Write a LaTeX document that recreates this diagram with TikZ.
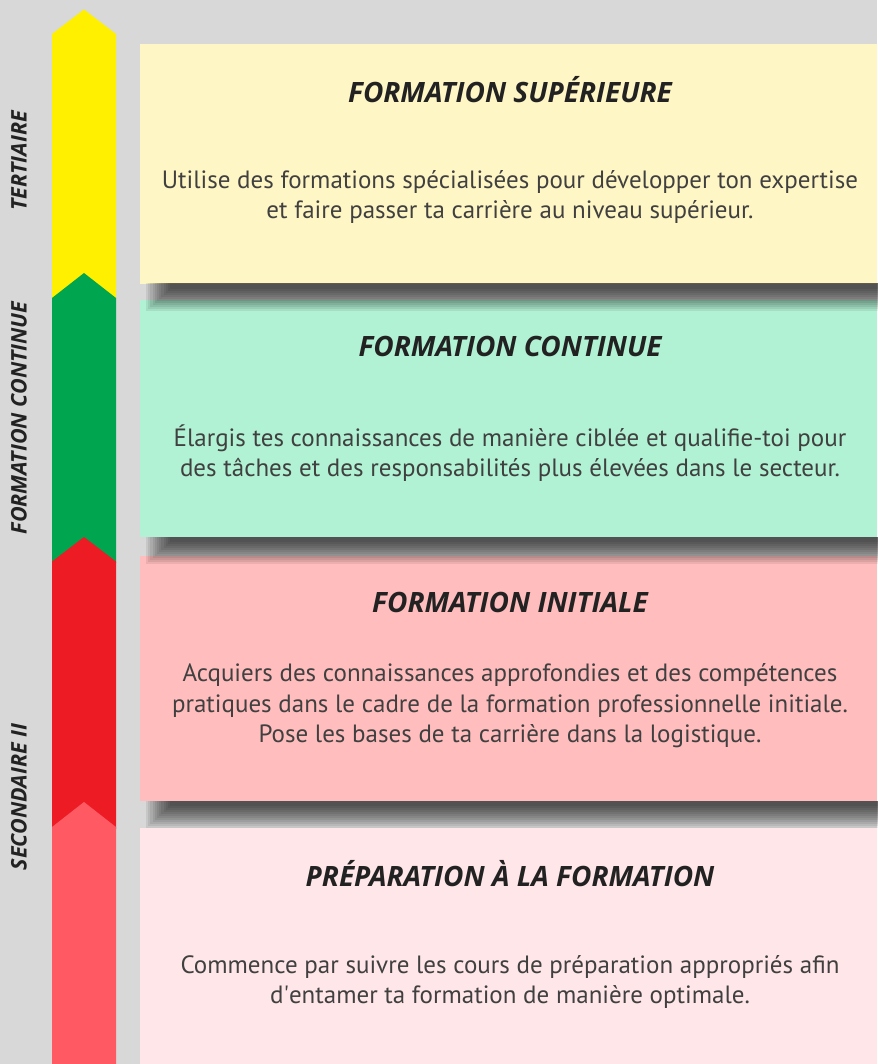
\documentclass[tikz,border=0pt]{standalone}
\usepackage{fontspec}
\setmainfont{PT Sans}
\newfontfamily\headfont{Open Sans}
\definecolor{bg}{HTML}{D8D8D8}
\definecolor{cyel}{HTML}{FFF000}
\definecolor{cgrn}{HTML}{00A54F}
\definecolor{cred}{HTML}{ED1C24}
\definecolor{csal}{HTML}{FF5A64}
\definecolor{byel}{HTML}{FFF6C5}
\definecolor{bgrn}{HTML}{B2F2D4}
\definecolor{bred}{HTML}{FFBDBD}
\definecolor{bsal}{HTML}{FFE6E8}
\definecolor{txt}{HTML}{404040}
\definecolor{ttl}{HTML}{222222}
\tikzset{
  ttlstyle/.style={font=\headfont\fontsize{28}{32}\selectfont\bfseries\itshape, text=ttl, inner sep=0pt},
  bodystyle/.style={font=\fontsize{25}{30.5}\selectfont, text=txt, align=center, inner sep=0pt},
  sidestyle/.style={font=\headfont\fontsize{21.5}{24}\selectfont\bfseries\itshape, text=ttl, rotate=90, inner sep=0pt},
  boxstyle/.style={inner sep=0pt, outer sep=0pt, draw=none}
}
\newcommand{\myshadow}[1]{%
  \begin{scope}
    \clip (140,#1) rectangle (900,#1+40);
    \foreach \k in {0,...,11}{
      \fill[black, opacity=0.075] (146+2.2*\k,#1-20) rectangle (900,#1+27-2*\k);
    }
  \end{scope}}
\begin{document}
\begin{tikzpicture}[x=1pt,y=-1pt]
\fill[bg] (0,0) rectangle (877,1064);
\useasboundingbox (0,0) rectangle (877,1064);
% chevrons
\fill[cyel] (52,34) -- (84,9.5) -- (116,34) -- (116,300) -- (52,300) -- cycle;
\fill[cgrn] (52,298) -- (84,273) -- (116,298) -- (116,563) -- (52,563) -- cycle;
\fill[cred] (52,561.5) -- (84,537) -- (116,561.5) -- (116,829) -- (52,829) -- cycle;
\fill[csal] (52,827) -- (84,802) -- (116,827) -- (116,1064) -- (52,1064) -- cycle;
% boxes
\fill[byel] (139.5,44) rectangle (877,284);
\fill[bgrn] (139.5,300) rectangle (877,537);
\fill[bred] (139.5,556) rectangle (877,801);
\fill[bsal] (139.5,828) rectangle (877,1064);
\node[boxstyle, minimum width=737.5pt, minimum height=240pt] (b1) at (508.25,164) {};
\node[boxstyle, minimum width=737.5pt, minimum height=237pt] (b2) at (508.25,418.5) {};
\node[boxstyle, minimum width=737.5pt, minimum height=245pt] (b3) at (508.25,678.5) {};
\node[boxstyle, minimum width=737.5pt, minimum height=236pt] (b4) at (508.25,946) {};
% shadows
\myshadow{284}
\myshadow{537}
\myshadow{801}
% titles
\node[ttlstyle] (t1) at (510,90) {FORMATION SUPÉRIEURE};
\node[ttlstyle] (t2) at (510,346) {FORMATION CONTINUE};
\node[ttlstyle] (t3) at (510,602) {FORMATION INITIALE};
\node[ttlstyle] (t4) at (510,874) {PRÉPARATION À LA FORMATION};
% bodies
\node[bodystyle] (d1) at (510,197) {Utilise des formations spécialisées pour développer ton expertise\\et faire passer ta carrière au niveau supérieur.};
\node[bodystyle] (d2) at (510,453) {Élargis tes connaissances de manière ciblée et qualifie-toi pour\\des tâches et des responsabilités plus élevées dans le secteur.};
\node[bodystyle] (d3) at (510,706) {Acquiers des connaissances approfondies et des compétences\\pratiques dans le cadre de la formation professionnelle initiale.\\Pose les bases de ta carrière dans la logistique.};
\node[bodystyle] (d4) at (510,982) {Commence par suivre les cours de préparation appropriés afin\\d\textquotesingle entamer ta formation de manière optimale.};
% side labels
\node[sidestyle] (s1) at (19,161) {TERTIAIRE};
\node[sidestyle] (s2) at (19,418) {FORMATION CONTINUE};
\node[sidestyle] (s3) at (19,797) {SECONDAIRE II};
\end{tikzpicture}
\end{document}
